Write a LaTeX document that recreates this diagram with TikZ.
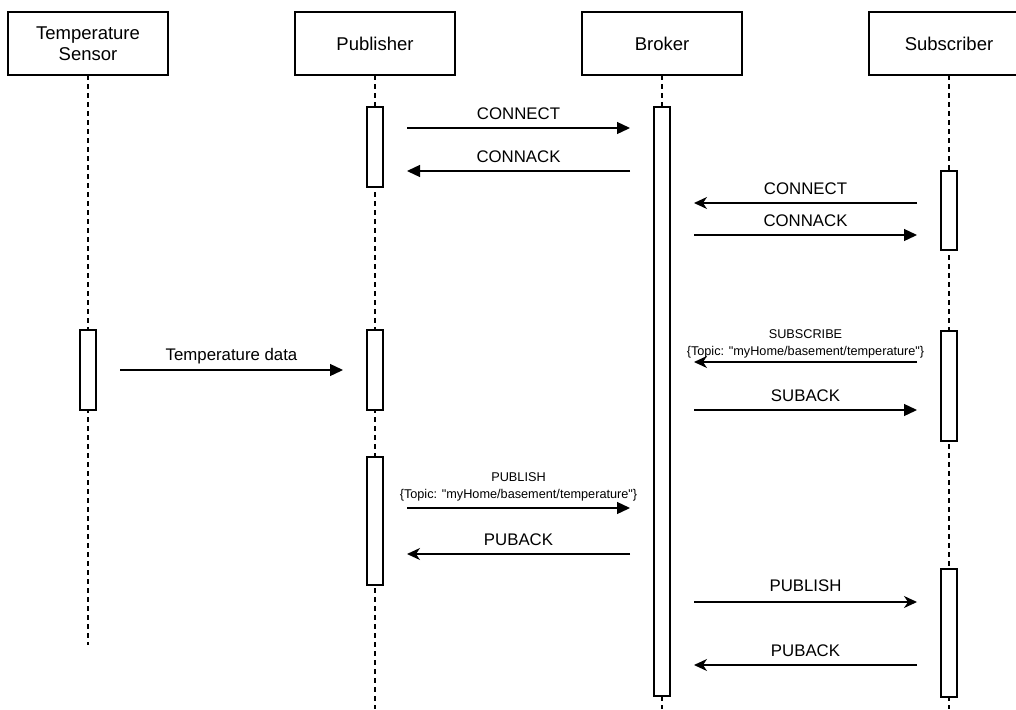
\documentclass[tikz,border=0pt]{standalone}
\usepackage{fontspec}
\setmainfont{Liberation Sans}
\usetikzlibrary{arrows.meta}
\begin{document}
\begin{tikzpicture}[x=1pt,y=-1pt,
  every node/.style={inner sep=0pt, outer sep=0pt},
  actor/.style={draw, line width=1.3pt, fill=white, minimum width=160pt, minimum height=63pt,
    align=center, font=\fontsize{18.5}{21}\selectfont},
  lifeline/.style={line width=1.3pt, dash pattern=on 5pt off 4pt},
  bar/.style={draw, line width=1.3pt, fill=white, minimum width=16pt},
  msgline/.style={line width=1.3pt, shorten <=32pt, shorten >=32pt},
  call/.style={msgline, -{Triangle[length=13pt,width=12pt]}},
  reply/.style={msgline, -{Stealth[length=13pt,width=12pt,inset=4pt]}},
  lbl/.style={anchor=base, font=\fontsize{16.8}{19}\selectfont},
  small/.style={anchor=base, align=center, font=\fontsize{12.7}{16.5}\selectfont}
]
\useasboundingbox[fill=white] (0,0) rectangle (1016,709);

% participants
\node[actor] (ts)  at (88,43.5)  {Temperature\\Sensor};
\node[actor] (pub) at (375,43.5) {Publisher};
\node[actor] (brk) at (662,43.5) {Broker};
\node[actor] (sub) at (949,43.5) {Subscriber};

% lifeline ends
\coordinate (tsEnd)  at (88,645);
\coordinate (pubEnd) at (375,709);
\coordinate (brkEnd) at (662,709);
\coordinate (subEnd) at (949,709);

\draw[lifeline] (ts.south)  -- (tsEnd);
\draw[lifeline] (pub.south) -- (pubEnd);
\draw[lifeline] (brk.south) -- (brkEnd);
\draw[lifeline] (sub.south) -- (subEnd);

% activation bars
\node[bar, minimum height=80pt]  (tsA)   at (88,370)    {};
\node[bar, minimum height=80pt]  (pubA1) at (375,147)   {};
\node[bar, minimum height=80pt]  (pubA2) at (375,370)   {};
\node[bar, minimum height=128pt] (pubA3) at (375,521)   {};
\node[bar, minimum height=589pt] (brkA)  at (662,401.5) {};
\node[bar, minimum height=79pt]  (subA1) at (949,210.5) {};
\node[bar, minimum height=110pt] (subA2) at (949,386)   {};
\node[bar, minimum height=128pt] (subA3) at (949,633)   {};

% message levels
\coordinate (m1)  at (0,128);
\coordinate (m2)  at (0,171);
\coordinate (m3)  at (0,203);
\coordinate (m4)  at (0,235);
\coordinate (m5)  at (0,362);
\coordinate (m6)  at (0,370);
\coordinate (m7)  at (0,410);
\coordinate (m8)  at (0,508);
\coordinate (m9)  at (0,554);
\coordinate (m10) at (0,602);
\coordinate (m11) at (0,665);

% publisher <-> broker
\draw[call]  (pub |- m1) -- (brk |- m1);
\node[lbl] (l1) at (518.5,119) {CONNECT};
\draw[call]  (brk |- m2) -- (pub |- m2);
\node[lbl] (l2) at (518.5,162) {CONNACK};

% subscriber <-> broker
\draw[reply] (sub |- m3) -- (brk |- m3);
\node[lbl] (l3) at (805.5,194) {CONNECT};
\draw[call]  (brk |- m4) -- (sub |- m4);
\node[lbl] (l4) at (805.5,226) {CONNACK};

\draw[reply] (sub |- m5) -- (brk |- m5);
\node[small] (l5) at (805.5,355) {SUBSCRIBE\\\{Topic: \textquotedbl myHome/basement/temperature\textquotedbl\}};
\draw[call]  (brk |- m7) -- (sub |- m7);
\node[lbl] (l7) at (805.5,401) {SUBACK};

% sensor -> publisher
\draw[call]  (ts |- m6) -- (pub |- m6);
\node[lbl] (l6) at (231.5,360) {Temperature data};

% publish
\draw[call]  (pub |- m8) -- (brk |- m8);
\node[small] (l8) at (518.5,498) {PUBLISH\\\{Topic: \textquotedbl myHome/basement/temperature\textquotedbl\}};
\draw[reply] (brk |- m9) -- (pub |- m9);
\node[lbl] (l9) at (518.5,545) {PUBACK};

\draw[reply] (brk |- m10) -- (sub |- m10);
\node[lbl] (l10) at (805.5,591) {PUBLISH};
\draw[reply] (sub |- m11) -- (brk |- m11);
\node[lbl] (l11) at (805.5,656) {PUBACK};
\end{tikzpicture}
\end{document}
